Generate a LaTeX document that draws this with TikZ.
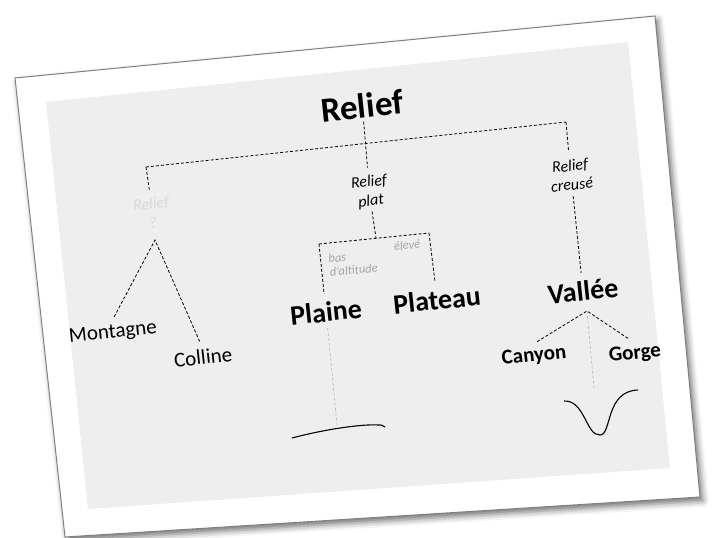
\documentclass[tikz,border=0pt]{standalone}
\usepackage{fontspec}
\setmainfont{Carlito}
\usetikzlibrary{shadows.blur}
\definecolor{panel}{HTML}{EEEEEE}
\definecolor{faint}{HTML}{D9D9D9}
\definecolor{hint}{HTML}{A6A6A6}
\definecolor{guideline}{HTML}{BDBDBD}

\begin{document}
\begin{tikzpicture}[x=1pt,y=-1pt,
  every node/.style={rotate=6,inner sep=3pt},
  link/.style={draw,line width=0.8pt,dash pattern=on 3pt off 2pt},
  leg/.style={link,shorten >=5pt},
  guide/.style={draw=guideline,line width=0.7pt,dash pattern=on 3pt off 2pt},
  kind/.style={font=\fontsize{16}{19}\selectfont\itshape,align=center},
  note/.style={font=\fontsize{12.5}{14}\selectfont\itshape,text=hint,inner sep=1pt},
  level/.style={font=\fontsize{28}{32}\selectfont\bfseries},
  sub/.style={font=\fontsize{21}{25}\selectfont}]
  \useasboundingbox (0,0) rectangle (716,538);

  %card
  \fill[white,blur shadow={shadow xshift=3pt,shadow yshift=-4pt,shadow blur radius=6pt,shadow opacity=55}]
    (15,78) -- (655,16) -- (700,497) -- (65,537) -- cycle;
  \draw[gray,line width=1pt] (15,78) -- (655,16) -- (700,497) -- (65,537) -- cycle;
  \fill[panel] (46,102) -- (628,42) -- (670,468) -- (88,509) -- cycle;

  %top
  \node[name=root,font=\fontsize{35}{40}\selectfont\bfseries,at={(362,106)}]{Relief};
  \coordinate (barL) at (146,167);
  \coordinate (barR) at (566,122);
  \draw[link] (barL) -- (barR);
  \node[kind,name=unknown,text=faint,at={(152,213)}]{Relief\\?};
  \node[kind,name=flat,at={(370,192)}]{Relief\\plat};
  \node[kind,name=hollow,at={(571,175)}]{Relief\\creusé};
  \draw[leg] (root.south) -- (flat.north);
  \draw[leg] (barL) -- (unknown.north);
  \draw[leg] (barR) -- (hollow.north);

  %left
  \coordinate (fork1) at (155,240);
  \node[sub,name=mount,at={(113,333)}]{Montagne};
  \node[sub,name=hill,at={(203,357)}]{Colline};
  \draw[link,shorten <=5pt,shorten >=5pt] (mount.north) -- (fork1) -- (hill.north);

  %middle
  \coordinate (fork2) at (376,238);
  \coordinate (bar2L) at (319,244);
  \coordinate (bar2R) at (429,233);
  \draw[link] (flat.south) -- (fork2);
  \draw[link] (bar2L) -- (bar2R);
  \node[note,name=low,align=left,at={(353,263)}]{bas\\d’altitude};
  \node[note,name=high,at={(407,245)}]{élevé};
  \node[level,name=plain,at={(326,312)}]{Plaine};
  \node[level,name=plateau,at={(437,300)}]{Plateau};
  \draw[leg] (bar2L) -- (plain.north);
  \draw[leg] (bar2R) -- (plateau.north);
  \coordinate (flatfoot) at (337,425);
  \draw[guide,shorten <=3pt] (plain.south) -- (flatfoot);
  \draw[line width=1.1pt] (292,438) .. controls (330,428) and (365,424) .. (378,425) .. controls (382,425) .. (385,427);

  %right
  \node[level,name=valley,at={(583,291)}]{Vallée};
  \draw[leg,shorten <=3pt] (hollow.south) -- (valley.north);
  \coordinate (fork3) at (587,311);
  \node[sub,font=\fontsize{21}{25}\selectfont\bfseries,name=canyon,at={(534,356)}]{Canyon};
  \node[sub,font=\fontsize{21}{25}\selectfont\bfseries,name=gorge,at={(635,354)}]{Gorge};
  \draw[link,shorten <=5pt,shorten >=5pt] (canyon.north) -- (fork3) -- (gorge.north);
  \coordinate (gapfoot) at (594,388);
  \draw[guide] (fork3) -- (gapfoot);
  \draw[line width=1.1pt] (564,401) .. controls (585,400) and (586,436) .. (600,435) .. controls (612,435) and (605,391) .. (638,390);
\end{tikzpicture}
\end{document}
